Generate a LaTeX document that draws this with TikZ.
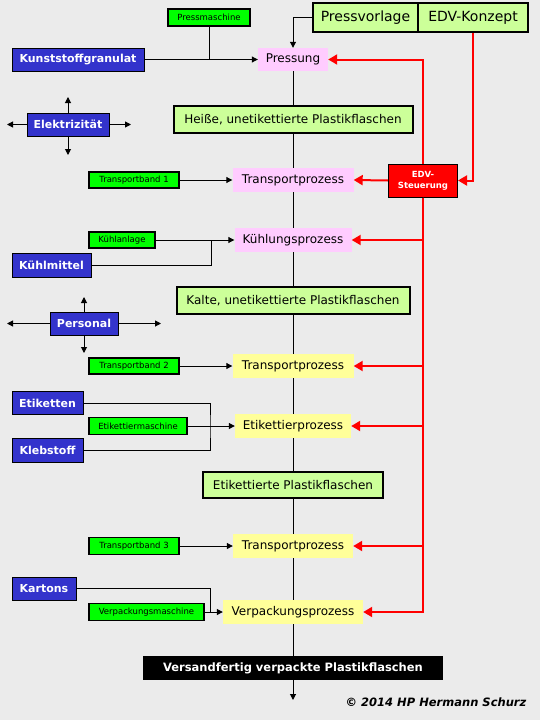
\documentclass[tikz,border=0pt]{standalone}
\usepackage{fontspec}
\setmainfont{DejaVu Sans}
\usetikzlibrary{arrows.meta}
\definecolor{bgc}{HTML}{EBEBEB}
\definecolor{blu}{HTML}{3333CC}
\definecolor{grn}{HTML}{00FF00}
\definecolor{lgr}{HTML}{CCFF99}
\definecolor{pnk}{HTML}{FFCCFF}
\definecolor{ylw}{HTML}{FFFF99}
\definecolor{rd}{HTML}{FF0000}
\tikzset{
 box/.style={inner sep=0pt, align=center},
 sz/.style 2 args={minimum width=#1pt, minimum height=#2pt},
 bluebox/.style={box, fill=blu, draw=black, line width=1pt, text=white, font=\fontsize{11}{13}\selectfont\bfseries},
 greenbox/.style={box, fill=grn, draw=black, line width=1.7pt, font=\fontsize{8.5}{10}\selectfont},
 statebox/.style={box, fill=lgr, draw=black, line width=2pt, font=\fontsize{12}{14}\selectfont},
 topbox/.style={statebox, font=\fontsize{14}{16}\selectfont},
 procpink/.style={box, fill=pnk, font=\fontsize{12}{14}\selectfont},
 procyel/.style={box, fill=ylw, font=\fontsize{12}{14}\selectfont},
 ctrlbox/.style={box, fill=rd, draw=black, line width=1pt, text=white, font=\fontsize{8.5}{11}\selectfont\bfseries},
 finalbox/.style={box, fill=black, text=white, font=\fontsize{11.5}{13}\selectfont\bfseries},
 conn/.style={draw=black, line width=1pt},
 arr/.style={conn, -{Triangle[length=6pt,width=6pt]}},
 rline/.style={draw=rd, line width=2pt},
 rarr/.style={rline, -{Triangle[length=9pt,width=10pt]}},
 credit/.style={inner sep=0pt, font=\fontsize{11.5}{13}\selectfont\bfseries\itshape},
}
\begin{document}
\begin{tikzpicture}[x=1pt,y=-1pt]
\fill[bgc] (0,0) rectangle (540,720);
\useasboundingbox (0,0) rectangle (540,720);

% nodes
\node[greenbox, sz={82}{17}] (pm) at (209,17.5) {Pressmaschine};
\node[bluebox, sz={132}{23}] (kg) at (78,59.5) {Kunststoffgranulat};
\node[procpink, sz={70}{23}] (pr) at (293,59.5) {Pressung};
\node[topbox, sz={105}{29}] (pv) at (365.5,17.5) {Pressvorlage};
\node[topbox, sz={110}{29}] (ek) at (473,17.5) {EDV-Konzept};
\node[statebox, sz={239}{27}] (h1) at (293,119.5) {Heiße, unetikettierte Plastikflaschen};
\node[bluebox, sz={82}{23}] (el) at (68,124.5) {Elektrizität};
\node[greenbox, sz={90}{16}] (tb1) at (134,180) {Transportband 1};
\node[procpink, sz={121}{24}] (tp1) at (293,180) {Transportprozess};
\node[ctrlbox, sz={69}{33}] (st) at (423,180.5) {EDV-\\Steuerung};
\node[greenbox, sz={66}{16}] (ka) at (122,240) {Kühlanlage};
\node[bluebox, sz={79}{24}] (km) at (51.5,265) {Kühlmittel};
\node[procpink, sz={117}{24}] (kp) at (293,240) {Kühlungsprozess};
\node[statebox, sz={233}{27}] (h2) at (293,300.5) {Kalte, unetikettierte Plastikflaschen};
\node[bluebox, sz={68}{23}] (pe) at (84,323.5) {Personal};
\node[greenbox, sz={90}{16}] (tb2) at (134,366) {Transportband 2};
\node[procyel, sz={121}{24}] (tp2) at (293,366) {Transportprozess};
\node[bluebox, sz={71}{23}] (et) at (47.5,403) {Etiketten};
\node[greenbox, sz={98}{17}] (em) at (138,426) {Etikettiermaschine};
\node[bluebox, sz={71}{24}] (kl) at (47.5,450) {Klebstoff};
\node[procyel, sz={116}{24}] (ep) at (293,426) {Etikettierprozess};
\node[statebox, sz={180}{26}] (h3) at (293,485) {Etikettierte Plastikflaschen};
\node[greenbox, sz={90}{17}] (tb3) at (134,546) {Transportband 3};
\node[procyel, sz={120}{24}] (tp3) at (293,546) {Transportprozess};
\node[bluebox, sz={64}{23}] (kt) at (44,588.5) {Kartons};
\node[greenbox, sz={115}{17}] (vm) at (146.5,612) {Verpackungsmaschine};
\node[procyel, sz={140}{24}] (vp) at (293,612) {Verpackungsprozess};
\node[finalbox, sz={300}{24}] (vf) at (293,668) {Versandfertig verpackte Plastikflaschen};
\node[credit] (cr) at (436,702) {© 2014 HP Hermann Schurz};

% free ends and junctions
\coordinate (elu) at (68,97);
\coordinate (ell) at (7,124.5);
\coordinate (elr) at (131,124.5);
\coordinate (eld) at (68,155);
\coordinate (peu) at (84,297);
\coordinate (pel) at (7,323.5);
\coordinate (per) at (161,323.5);
\coordinate (ped) at (84,353);
\coordinate (j1) at (211,240);
\coordinate (j2) at (210,426);
\coordinate (j3) at (210,612);
\coordinate (endc) at (293,700);

% black connectors
\draw[arr] (pv.west) -| (pr.north);
\draw[arr] (kg.east) -- (pr.west);
\draw[conn] (pm.south) -- (pm.south |- kg.east);
\draw[conn] (pr.south) -- (h1.north);
\draw[conn] (h1.south) -- (tp1.north);
\draw[conn] (tp1.south) -- (kp.north);
\draw[conn] (kp.south) -- (h2.north);
\draw[conn] (h2.south) -- (tp2.north);
\draw[conn] (tp2.south) -- (ep.north);
\draw[conn] (ep.south) -- (h3.north);
\draw[conn] (h3.south) -- (tp3.north);
\draw[conn] (tp3.south) -- (vp.north);
\draw[conn] (vp.south) -- (vf.north);
\draw[arr] (vf.south) -- (endc);

\draw[arr] (el.north) -- (elu);
\draw[arr] (el.west) -- (ell);
\draw[arr] (el.east) -- (elr);
\draw[arr] (el.south) -- (eld);
\draw[arr] (pe.north) -- (peu);
\draw[arr] (pe.west) -- (pel);
\draw[arr] (pe.east) -- (per);
\draw[arr] (pe.south) -- (ped);

\draw[arr] (tb1.east) -- (tp1.west);
\draw[arr] (ka.east) -- (kp.west);
\draw[conn] (km.east) -| (j1);
\draw[arr] (tb2.east) -- (tp2.west);
\draw[arr] (em.east) -- (ep.west);
\draw[conn] (et.east) -| (j2) |- (kl.east);
\draw[arr] (tb3.east) -- (tp3.west);
\draw[arr] (vm.east) -- (vp.west);
\draw[conn] (kt.east) -| (j3);

% red control connectors
\draw[rarr] (ek.south) |- (st.east);
\draw[rarr] (st.north) |- (pr.east);
\draw[rarr] (st.west) -- (tp1.east);
\draw[rarr] (st.south) |- (kp.east);
\draw[rarr] (st.south) |- (tp2.east);
\draw[rarr] (st.south) |- (ep.east);
\draw[rarr] (st.south) |- (tp3.east);
\draw[rarr] (st.south) |- (vp.east);
\end{tikzpicture}
\end{document}
